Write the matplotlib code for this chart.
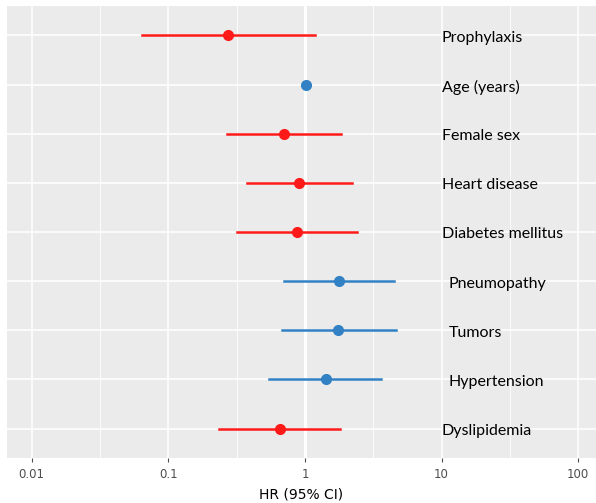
import numpy as np
import matplotlib.pyplot as plt

# forest plot: HR with 95% CI (log scale)
labels = ['Prophylaxis', 'Age (years)', 'Female sex', 'Heart disease', 'Diabetes mellitus',
          'Pneumopathy', 'Tumors', 'Hypertension', 'Dyslipidemia']
hr = [0.273, 1.02, 0.70, 0.90, 0.87, 1.77, 1.75, 1.43, 0.66]
ci_low = [0.064, 1.0, 0.27, 0.376, 0.32, 0.70, 0.68, 0.55, 0.234]
ci_high = [1.18, 1.04, 1.84, 2.21, 2.40, 4.49, 4.64, 3.60, 1.80]
group = ['red', 'blue', 'red', 'red', 'red', 'blue', 'blue', 'blue', 'red']
label_x = [10, 10, 10, 10, 10, 11.2, 11.2, 11.2, 10]

colors = {'red': '#ff1a1a', 'blue': '#3281c4'}

fig = plt.figure(figsize=(5.96, 5.03), dpi=100)
ax = fig.add_axes([7/596, 45/503, 589/596, 452/503])
ax.set_facecolor('#ebebeb')

n = len(labels)
ypos = np.arange(n)[::-1] + 1

ax.set_xscale('log')
ax.set_xlim(0.0066, 135)
ax.set_ylim(0.4, 9.6)

# grid
for e in [-2, -1, 0, 1, 2]:
    ax.axvline(10.0**e, color='white', lw=1.1, zorder=1)
for e in [-2.5, -1.5, -0.5, 0.5, 1.5]:
    ax.axvline(10.0**e, color='white', lw=0.6, zorder=1)
for y in ypos:
    ax.axhline(y, color='white', lw=1.1, zorder=1)
ax.axvline(1, color='white', lw=2.2, zorder=1)

for i in range(n):
    c = colors[group[i]]
    ax.plot([ci_low[i], ci_high[i]], [ypos[i], ypos[i]], color=c, lw=1.8, zorder=3)
    ax.plot(hr[i], ypos[i], 'o', color=c, ms=7, zorder=4)
    ax.text(label_x[i], ypos[i] - 0.05, labels[i], fontsize=11.5, family='Lato',
            ha='left', va='center', color='black', zorder=5)

ax.set_xticks([0.01, 0.1, 1, 10, 100])
ax.set_xticklabels(['0.01', '0.1', '1', '10', '100'])
ax.minorticks_off()
ax.set_yticks([])
ax.tick_params(axis='x', colors='#4d4d4d', labelsize=8.5, length=3, width=0.8, pad=4)
for s in ax.spines.values():
    s.set_visible(False)
ax.set_xlabel('HR (95% CI)', fontsize=10, color='black', labelpad=5)

plt.savefig('out.png', dpi=100)
